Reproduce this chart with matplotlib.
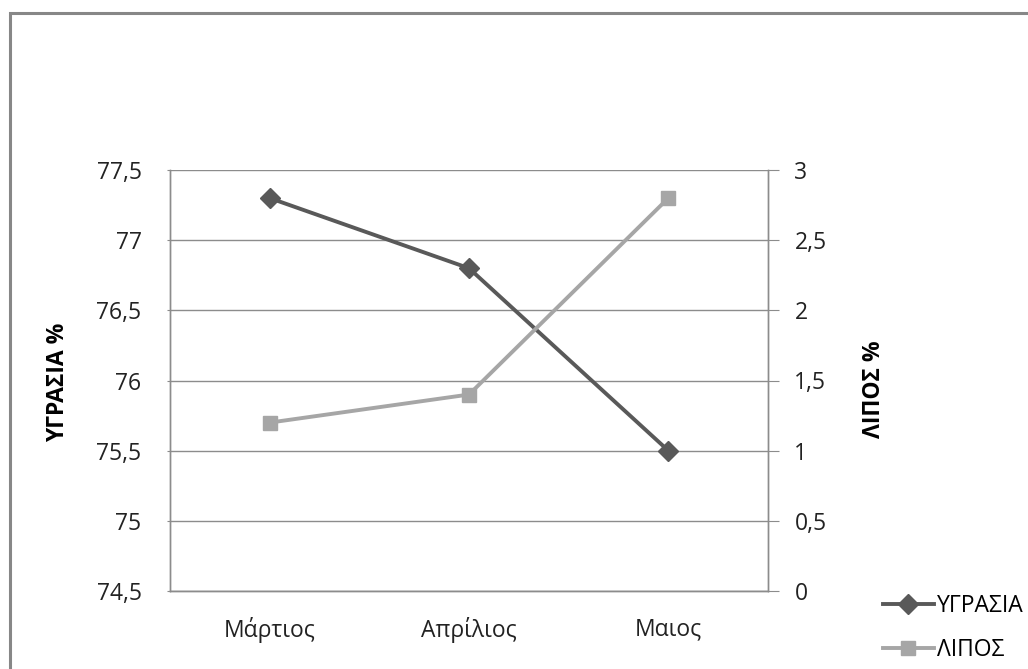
import matplotlib
matplotlib.use('Agg')
import matplotlib.pyplot as plt
from matplotlib.patches import Rectangle

# data
months = ['Μάρτιος', 'Απρίλιος', 'Μαιος']
ygrasia = [77.3, 76.8, 75.5]
lipos = [1.2, 1.4, 2.8]
left_ticks = [74.5, 75, 75.5, 76, 76.5, 77, 77.5]
right_ticks = [0, 0.5, 1, 1.5, 2, 2.5, 3]


def fmt(v):
    """Greek style decimal comma"""
    s = ('%g' % v)
    return s.replace('.', ',')


plt.rcParams['font.family'] = ['Open Sans', 'DejaVu Sans']
W, H = 1028, 669
FS = 16.5
fig = plt.figure(figsize=(W / 100, H / 100), dpi=100)
fig.patch.set_facecolor('white')

# outer chart border (cut off at right and bottom)
fig.patches.append(Rectangle((10 / W, -0.5), 2.0, 1 - 13 / H + 0.5,
                             transform=fig.transFigure, fill=False,
                             edgecolor='#878787', linewidth=2.2))

ax = fig.add_axes([170 / W, 1 - 591 / H, 598 / W, 421 / H])
ax2 = ax.twinx()

x = range(len(months))
l1, = ax.plot(x, ygrasia, color='#595959', lw=2.8, marker='D', ms=10,
              label='ΥΓΡΑΣΙΑ', zorder=5)
l2, = ax2.plot(x, lipos, color='#a6a6a6', lw=2.8, marker='s', ms=10,
               label='ΛΙΠΟΣ', zorder=4)

ax.set_xlim(-0.5, 2.5)
ax.set_ylim(74.5, 77.5)
ax2.set_ylim(0, 3)
ax.set_yticks(left_ticks)
ax.set_yticklabels([fmt(v) for v in left_ticks])
ax2.set_yticks(right_ticks)
ax2.set_yticklabels([fmt(v) for v in right_ticks])
ax.set_xticks(list(x))
ax.set_xticklabels(months)

grid_c = '#8c8c8c'
ax.grid(axis='y', color=grid_c, lw=1)
ax.set_axisbelow(True)
for a in (ax, ax2):
    for s in a.spines.values():
        s.set_color(grid_c)
        s.set_linewidth(1)
    a.spines['top'].set_visible(False)

ax.tick_params(axis='x', length=0, pad=19, labelsize=FS, colors='#222222')
ax.tick_params(axis='y', length=2, pad=18.5, labelsize=FS, color=grid_c,
               labelcolor='#222222')
ax2.tick_params(axis='y', length=8, pad=11, labelsize=FS, color=grid_c,
                labelcolor='#222222')

ax.set_ylabel('ΥΓΡΑΣΙΑ %', fontsize=FS, fontweight='bold')
ax.yaxis.set_label_coords(-0.167, 0.495)
ax2.set_ylabel('ΛΙΠΟΣ %', fontsize=FS, fontweight='bold', rotation=90)
ax2.yaxis.set_label_coords(1.157, 0.48)

# legend sits at the lower right, nudged left so the label is not clipped
fig.legend(handles=[l1, l2], loc='upper left',
           bbox_to_anchor=(874 / W, 1 - 585 / H), frameon=False,
           fontsize=FS, handlelength=2.2, handletextpad=0.15,
           labelspacing=0.87, borderaxespad=0)

fig.savefig('out.png', dpi=100)
